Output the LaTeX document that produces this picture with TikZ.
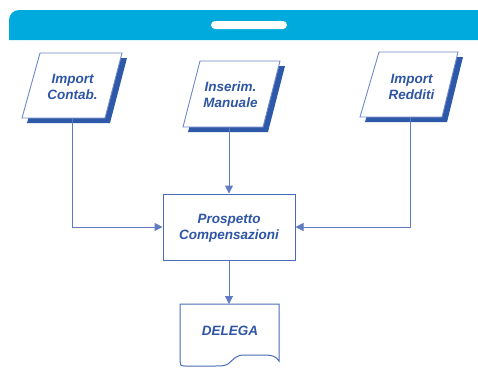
\documentclass[tikz,border=0pt]{standalone}
\usepackage{fontspec}
\setmainfont{Liberation Sans}
\usetikzlibrary{arrows.meta}
\definecolor{hdr}{HTML}{00AADC}
\definecolor{txtc}{HTML}{2F55A5}
\definecolor{shad}{HTML}{2E58A8}
\definecolor{edge}{HTML}{7088C8}
\definecolor{boxc}{HTML}{4A6CB8}
\definecolor{conc}{HTML}{5F7CC0}
\tikzset{
  lbl/.style={text=txtc, font=\fontsize{13.5bp}{16bp}\selectfont\bfseries\itshape, align=center, inner sep=0pt},
  para/.style={draw=edge, fill=white, line width=0.9bp, line join=miter},
  shadowfill/.style={fill=shad},
  boxstyle/.style={draw=boxc, fill=white, line width=1bp, minimum width=132bp, minimum height=66bp, inner sep=0pt},
  conn/.style={draw=conc, line width=1bp},
  arr/.style={conn, -{Triangle[length=8bp,width=8bp]}},
}
\begin{document}
\begin{tikzpicture}[x=1bp,y=-1bp]
\useasboundingbox (0,0) rectangle (478,380);
\fill[white] (0,0) rectangle (478,380);
% header
\fill[hdr] (9,40) -- (9,20) arc[start angle=180,end angle=270,radius=10] -- (478,10) -- (478,40) -- cycle;
\fill[white, rounded corners=4bp] (211,21) rectangle (287,29);
% parallelogram 1
\fill[shadowfill] (45,58) -- (127,58) -- (110,123) -- (27,123) -- cycle;
\path[para] (40,53) -- (122,53) -- (105,118) -- (22,118) -- cycle;
\node[lbl] (p1) at (72.5,86.5) {Import\\Contab.};
\coordinate (c1) at (72,118);
% parallelogram 2
\fill[shadowfill] (205,66) -- (285,66) -- (268,132) -- (188,132) -- cycle;
\path[para] (200,61) -- (280,61) -- (263,127) -- (183,127) -- cycle;
\node[lbl] (p2) at (230.5,95) {Inserim.\\Manuale};
\coordinate (c2) at (229,127);
% parallelogram 3
\fill[shadowfill] (384,57) -- (463,57) -- (447,122) -- (365,122) -- cycle;
\path[para] (379,52) -- (458,52) -- (442,117) -- (360,117) -- cycle;
\node[lbl] (p3) at (411.5,86.5) {Import\\Redditi};
\coordinate (c3) at (410,117);
% central box
\node[boxstyle] (pc) at (229,227) {};
\node[lbl] (pct) at (229,228) {Prospetto\\Compensazioni};
% document
\path[draw=boxc, fill=white, line width=1bp] (180,304) -- (279,304) -- (279,361)
  .. controls (276,356) and (272,355) .. (262,355) -- (244,355)
  .. controls (236,355) and (234,359) .. (228,364)
  .. controls (225,366) and (220,366) .. (214,366) -- (185,366)
  .. controls (181,366) and (180,365) .. (180,362) -- cycle;
\coordinate (doctop) at (229,304);
\node[lbl] (doc) at (230,331) {DELEGA};
% connectors
\draw[arr] (c1) |- (pc.west);
\draw[arr] (c2) -- (pc.north);
\draw[arr] (c3) |- (pc.east);
\draw[arr] (pc.south) -- (doctop);
\end{tikzpicture}
\end{document}
